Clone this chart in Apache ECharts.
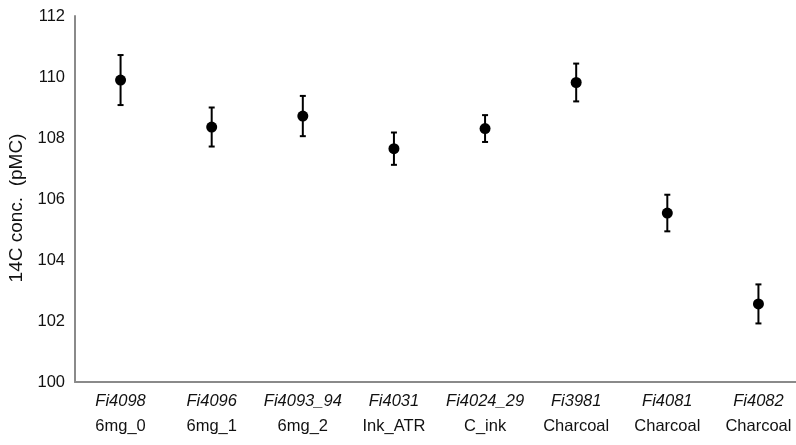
<!DOCTYPE html>
<html>
<head>
<meta charset="utf-8">
<script src="https://cdn.jsdelivr.net/npm/echarts@6/dist/echarts.min.js"></script>
<style>
html,body{margin:0;padding:0;background:#fff;}
#chart{width:796px;height:445px;}
</style>
</head>
<body>
<div id="chart"></div>
<script>
var sampleIds = ['Fi4098','Fi4096','Fi4093_94','Fi4031','Fi4024_29','Fi3981','Fi4081','Fi4082'];
var materials = ['6mg_0','6mg_1','6mg_2','Ink_ATR','C_ink','Charcoal','Charcoal','Charcoal'];
var concValues = [109.90, 108.36, 108.72, 107.65, 108.31, 109.82, 105.54, 102.56];
var concErrors = [0.82, 0.64, 0.66, 0.53, 0.44, 0.62, 0.60, 0.64];
var yTicks = { min: 100, max: 112, interval: 2 };

var font = '"Liberation Sans", Arial, sans-serif';
var chart = echarts.init(document.getElementById('chart'));
var errData = concValues.map(function(v, i){ return [i, v - concErrors[i], v + concErrors[i]]; });

chart.setOption({
  animation: false,
  backgroundColor: '#ffffff',
  grid: { left: 75, top: 16, height: 366, width: 729, containLabel: false, outerBoundsMode: 'none' },
  xAxis: {
    type: 'category',
    data: sampleIds,
    boundaryGap: true,
    axisLine: { show: true, lineStyle: { color: '#8a8a8a', width: 2 } },
    axisTick: { show: false },
    axisLabel: {
      interval: 0,
      margin: 7,
      formatter: function(v, i){ return '{a|' + sampleIds[i] + '}\n{b|' + materials[i] + '}'; },
      rich: {
        a: { fontFamily: font, fontSize: 16.5, fontStyle: 'italic', color: '#111', lineHeight: 25 },
        b: { fontFamily: font, fontSize: 16.5, color: '#111', lineHeight: 25 }
      }
    },
    splitLine: { show: false }
  },
  yAxis: {
    type: 'value',
    min: yTicks.min, max: yTicks.max, interval: yTicks.interval,
    name: '14C conc.  (pMC)',
    nameLocation: 'middle',
    nameGap: 48,
    nameTextStyle: { fontFamily: font, fontSize: 19, color: '#111', padding: [0, 18, 0, 0] },
    axisLine: { show: true, lineStyle: { color: '#8a8a8a', width: 2 } },
    axisTick: { show: false },
    axisLabel: { fontFamily: font, fontSize: 16.5, color: '#111', margin: 10 },
    splitLine: { show: false }
  },
  series: [
    {
      type: 'custom',
      data: errData,
      z: 2,
      renderItem: function(params, api){
        var x = api.value(0);
        var lo = api.coord([x, api.value(1)]);
        var hi = api.coord([x, api.value(2)]);
        var cw = 3;
        var st = { stroke: '#000', lineWidth: 2 };
        return { type: 'group', children: [
          { type: 'line', shape: { x1: lo[0], y1: lo[1], x2: hi[0], y2: hi[1] }, style: st },
          { type: 'line', shape: { x1: hi[0]-cw, y1: hi[1], x2: hi[0]+cw, y2: hi[1] }, style: st },
          { type: 'line', shape: { x1: lo[0]-cw, y1: lo[1], x2: lo[0]+cw, y2: lo[1] }, style: st }
        ]};
      }
    },
    {
      type: 'scatter',
      data: concValues,
      symbol: 'circle',
      symbolSize: 11,
      itemStyle: { color: '#000', opacity: 1 },
      z: 3
    }
  ]
});
</script>
</body>
</html>
